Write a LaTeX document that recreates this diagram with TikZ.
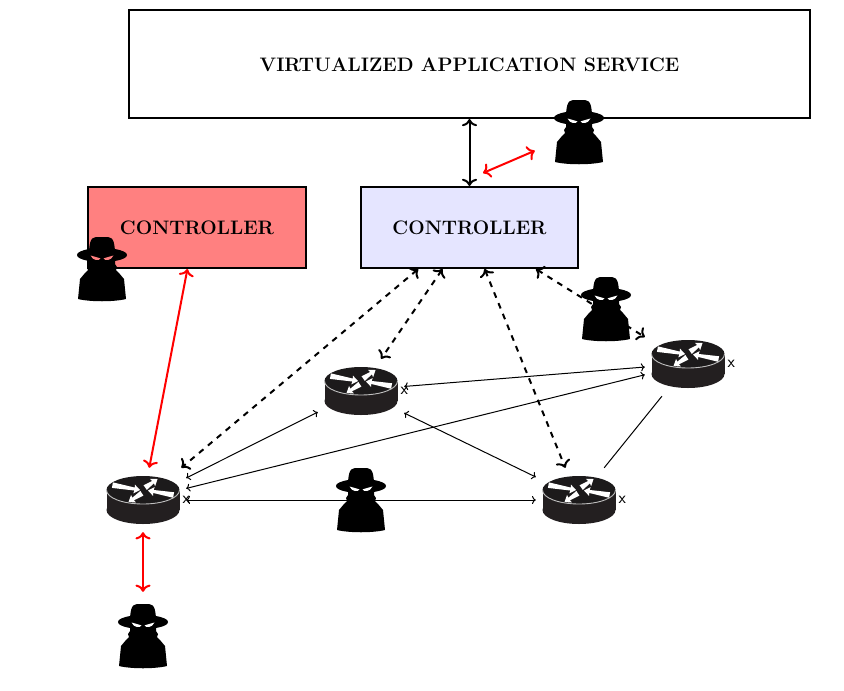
\documentclass[tikz,border=0pt]{standalone}
\usetikzlibrary{arrows.meta}

\tikzset{
  box/.style={draw, line width=2pt, inner sep=0pt, font=\fontsize{19.5}{22}\selectfont\bfseries},
  routerbox/.style={minimum width=86pt, minimum height=64pt, inner sep=0pt},
  hackerbox/.style={minimum width=88pt, minimum height=88pt, inner sep=0pt},
  portlabel/.style={inner sep=0pt, font=\fontsize{17}{18}\selectfont\sffamily},
  bigtips/.style={<->, >={Computer Modern Rightarrow[scale=1.2]}},
  link/.style={line width=1pt, <->},
  ctrllink/.style={line width=2pt, bigtips},
  dashlink/.style={line width=2pt, bigtips, dash pattern=on 5.8pt off 5.8pt},
  attack/.style={line width=2pt, bigtips, red},
  pics/router/.style={code={
    \fill[routerdark] (0,10) ellipse (36.5pt and 14pt);
    \fill[routerdark] (-36.5,-10) rectangle (36.5,10);
    \fill[routertop] (0,-10) ellipse (36.5pt and 14pt);
    \draw[gray!50, line width=.9pt] (-36.5,-10) .. controls (-36.5,-2) and (-20,4) .. (0,4) .. controls (20,4) and (36.5,-2) .. (36.5,-10);
    % four arrows, each given by a rotated and placed outline
    \foreach \px/\py/\ang/\len in {-3/-10/-10/28, 14.5/-21/35/15, -14.5/2/-147/16, 5/-9.5/170/26}
      \fill[white, shift={(\px,\py)}, rotate=\ang] (0,0) -- (-6,-4.5) -- (-5.5,-1.5) -- (-\len,-2.8) -- (-\len,2.8) -- (-5.5,1.5) -- (-6,4.5) -- cycle;
  }},
  pics/hacker/.style={code={
    \fill (-13,-13) .. controls (-13,-24) and (-12,-32) .. (-6,-32) -- (6,-32) .. controls (12,-32) and (13,-24) .. (13,-13) -- cycle;
    \fill (0,-14) ellipse (25pt and 7pt);
    \fill (-13,-12) -- (13,-12) -- (13,-5) -- (15,-2) -- (14,1) -- (17,4) -- (22,10) -- (24,30) .. controls (12,33) and (-12,33) .. (-24,30) -- (-22,10) -- (-17,4) -- (-14,1) -- (-15,-2) -- (-13,-5) -- cycle;
    \fill[#1] (-11.5,-13.5) .. controls (-8,-12.5) and (-4,-11.5) .. (-1.5,-10.5) .. controls (-3,-8) and (-9,-8) .. cycle;
    \fill[#1] (11.5,-13.5) .. controls (8,-12.5) and (4,-11.5) .. (1.5,-10.5) .. controls (3,-8) and (9,-8) .. cycle;
  }}
}
\definecolor{routerdark}{HTML}{231F20}
\definecolor{routertop}{HTML}{1C1A1B}

\begin{document}
\begin{tikzpicture}[x=1pt, y=-1pt]
  \useasboundingbox (0,0) rectangle (844,691);

  % boxes
  \node[box, minimum width=681pt, minimum height=108pt, text height=15.4pt, text depth=0pt] (app) at (469.5,64) {VIRTUALIZED APPLICATION SERVICE};
  \node[box, fill=red!50, minimum width=218pt, minimum height=81pt] (ctrlA) at (197,227.5) {CONTROLLER};
  \node[box, fill=blue!10, minimum width=217pt, minimum height=81pt] (ctrlB) at (469.5,227.5) {CONTROLLER};

  % routers
  \foreach \name/\x/\y in {r1/143/500, r2/361/391, r3/579/500, r4/688/364} {
    \node[routerbox] (\name) at (\x,\y) {};
    \pic at (\name) {router};
    \node[portlabel] (\name x) at (\name.east) {x};
  }

  % attackers
  \foreach \name/\x/\y in {h1/579/132, h2/102/269, h3/606/309, h4/361/500, h5/143/636}
    \node[hackerbox] (\name) at (\x,\y) {};
  \coordinate (tap) at (483,173);

  % data plane
  \draw[link] (r1.27) -- (r2.206);
  \draw[link] (r1.15.6) -- (r4.194.4);
  \draw[link] (r1.east) -- (r3.west);
  \draw[link] (r2.6.6) -- (r4.184);
  \draw[link] (r2.-27) -- (r3.152.9);
  \draw[line width=1pt] (r3.52) -- (r4.231);

  % control plane
  \draw[ctrllink] (app.south) -- (ctrlB.north);
  \draw[dashlink] (ctrlB.219.6) -- (r1.40.1);
  \draw[dashlink] (ctrlB.237) -- (r2.58);
  \draw[dashlink] (ctrlB.290.7) -- (r3.113.6);
  \draw[dashlink] (ctrlB.328.7) -- (r4.148);

  % attacks
  \draw[attack] (ctrlA.257.3) -- (r1.79.4);
  \draw[attack] (tap) -- (h1.203.4);
  \draw[attack] (r1.south) -- (h5.north);

  \foreach \name/\eye in {h1/white, h2/red!50, h3/white, h4/white, h5/white}
    \pic at (\name) {hacker=\eye};
\end{tikzpicture}
\end{document}
